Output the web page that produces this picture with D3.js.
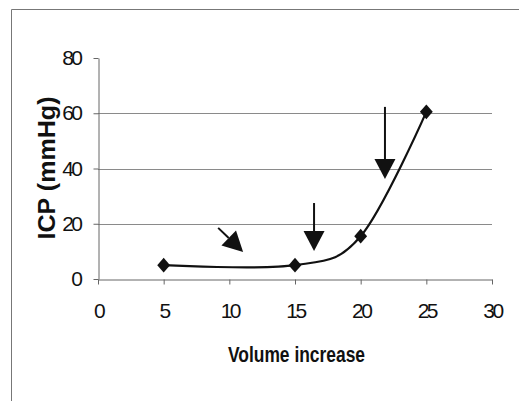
<!DOCTYPE html>
<html>
<head>
<meta charset="utf-8">
<script src="https://cdn.jsdelivr.net/npm/d3@7"></script>
<style>
  html, body { margin: 0; padding: 0; background: #fff; }
  svg { display: block; }
</style>
</head>
<body>
<svg id="chart" width="519" height="401"></svg>
<script>
// ---- data ----
const volume = [5, 15, 20, 25];
const icp = [5, 5, 15.5, 60.5];
const xTicks = [0, 5, 10, 15, 20, 25, 30];
const yTicks = [0, 20, 40, 60, 80];
const gridValues = [20, 40, 60];
// annotation arrows in data units: [x1, y1] -> tip [x2, y2]
const arrowFrom = [[9.15, 18.5], [16.45, 27.5], [21.85, 62.3]];
const arrowTo = [[11.05, 9.8], [16.45, 10.1], [21.85, 36.2]];
const xTitle = "Volume increase";
const yTitle = "ICP (mmHg)";

const svg = d3.select("#chart");
const x = d3.scaleLinear().domain([0, 30]).range([98, 492]);
const y = d3.scaleLinear().domain([0, 80]).range([279, 58]);

// frame
svg.append("path")
  .attr("d", "M11.5,401 L11.5,9.5 L519,9.5")
  .attr("fill", "none").attr("stroke", "#777").attr("stroke-width", 1);

// gridlines
svg.append("g").selectAll("line").data(gridValues).join("line")
  .attr("x1", x(0)).attr("x2", x(30))
  .attr("y1", d => Math.round(y(d)) + 0.5).attr("y2", d => Math.round(y(d)) + 0.5)
  .attr("stroke", "#8a8a8a").attr("stroke-width", 1);

// x axis
const xAxis = d3.axisBottom(x).tickValues(xTicks).tickSize(5).tickPadding(29).tickSizeOuter(0);
const gx = svg.append("g").attr("transform", `translate(0,${Math.round(y(0)) + 0.5})`).call(xAxis);
gx.select(".domain").attr("stroke", "#666");
gx.selectAll(".tick line").attr("stroke", "#666");
gx.selectAll(".tick text")
  .attr("font-family", "Liberation Sans, Arial, sans-serif")
  .attr("font-size", 21).attr("letter-spacing", -2.5).attr("fill", "#111").attr("dy", "0.2em");

// y axis
const yAxis = d3.axisLeft(y).tickValues(yTicks).tickSize(5).tickPadding(13).tickSizeOuter(0);
const gy = svg.append("g").attr("transform", `translate(${x(0) + 0.5},0)`).call(yAxis);
gy.select(".domain").attr("stroke", "#666");
gy.selectAll(".tick line").attr("stroke", "#666");
gy.selectAll(".tick text")
  .attr("font-family", "Liberation Sans, Arial, sans-serif")
  .attr("font-size", 21).attr("letter-spacing", -2.5).attr("fill", "#111");

// titles
svg.append("text")
  .attr("x", 228).attr("y", 362)
  .attr("textLength", 137).attr("lengthAdjust", "spacingAndGlyphs")
  .attr("font-family", "Liberation Sans, Arial, sans-serif")
  .attr("font-weight", "bold").attr("font-size", 22).attr("fill", "#111")
  .text(xTitle);

svg.append("text")
  .attr("transform", "translate(55,168) rotate(-90)")
  .attr("text-anchor", "middle")
  .attr("textLength", 143).attr("lengthAdjust", "spacingAndGlyphs")
  .attr("font-family", "Liberation Sans, Arial, sans-serif")
  .attr("font-weight", "bold").attr("font-size", 23).attr("fill", "#111")
  .text(yTitle);

// smoothed line
const pts = volume.map((v, i) => [v, icp[i]]);
const line = d3.line().x(d => x(d[0])).y(d => y(d[1])).curve(d3.curveCardinal.tension(0));
svg.append("path").attr("d", line(pts))
  .attr("fill", "none").attr("stroke", "#111").attr("stroke-width", 2.2);

// diamond markers
const sym = d3.symbol().type(d3.symbolDiamond2).size(105);
svg.append("g").selectAll("path").data(pts).join("path")
  .attr("transform", d => `translate(${x(d[0])},${y(d[1])}) scale(1,1.15)`)
  .attr("d", sym).attr("fill", "#111");

// arrows
const ag = svg.append("g");
arrowFrom.forEach((f, i) => {
  const t = arrowTo[i];
  const x1 = x(f[0]), y1 = y(f[1]), x2 = x(t[0]), y2 = y(t[1]);
  const dx = x2 - x1, dy = y2 - y1, L = Math.hypot(dx, dy);
  const ux = dx / L, uy = dy / L;
  const hl = 20, hw = 10.5;
  const bx = x2 - ux * hl, by = y2 - uy * hl;
  ag.append("line").attr("x1", x1).attr("y1", y1).attr("x2", bx).attr("y2", by)
    .attr("stroke", "#111").attr("stroke-width", 2);
  ag.append("path")
    .attr("d", `M${x2},${y2} L${bx - uy * hw},${by + ux * hw} L${bx + uy * hw},${by - ux * hw} Z`)
    .attr("fill", "#111");
});
</script>
</body>
</html>
